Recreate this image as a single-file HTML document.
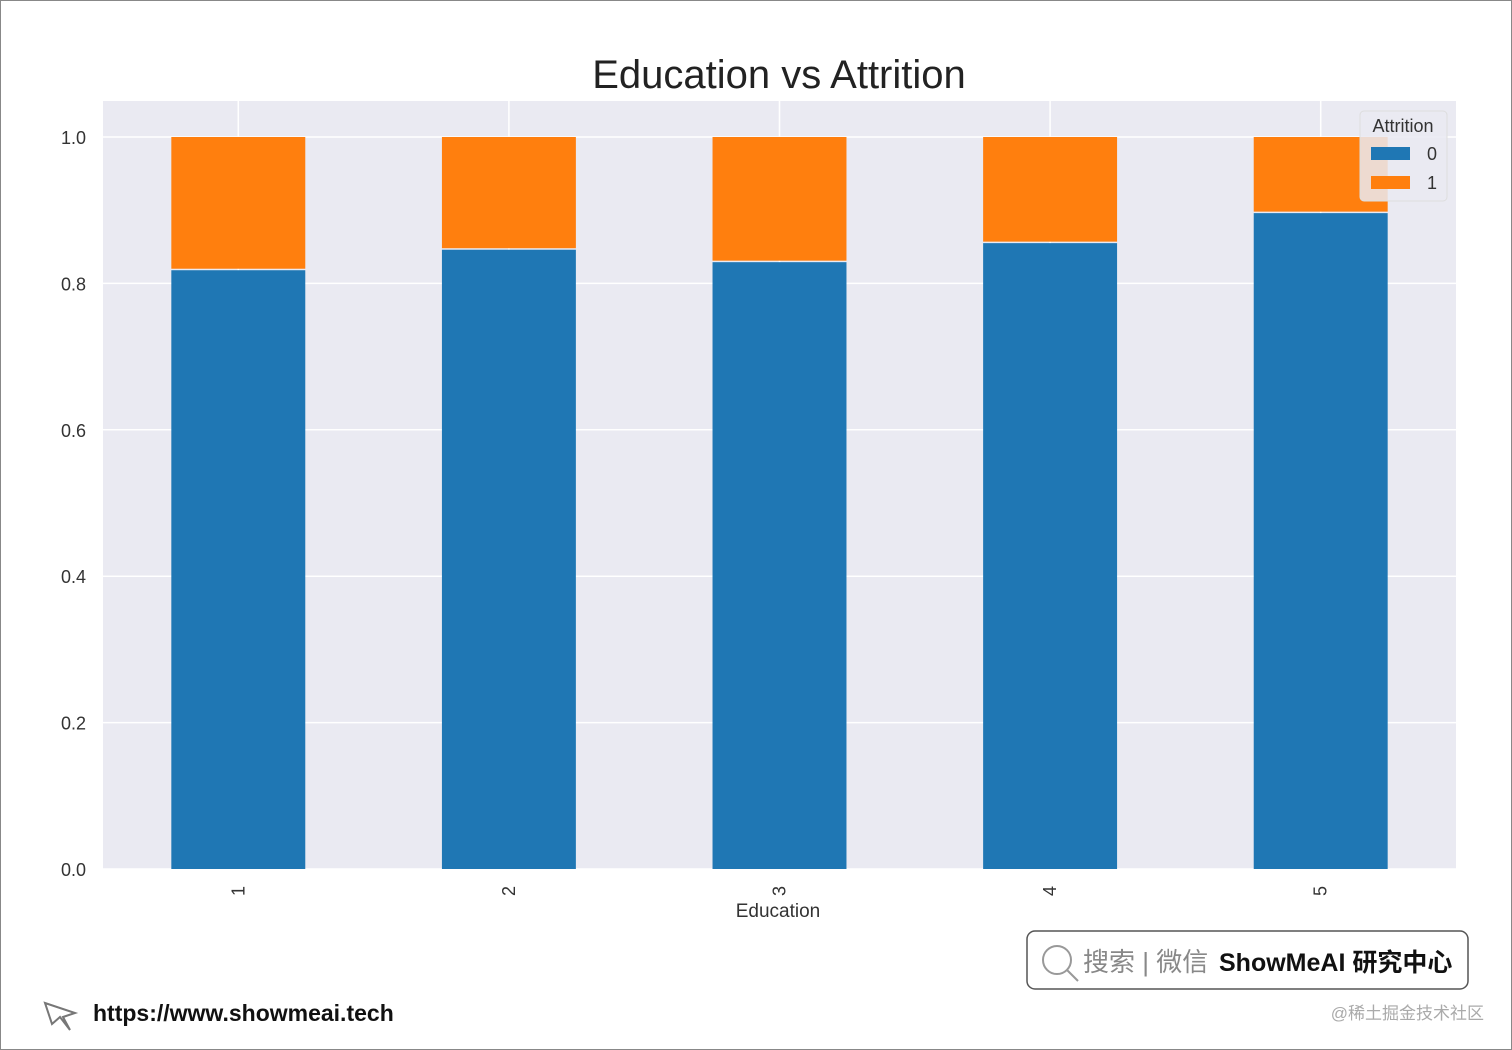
<!DOCTYPE html>
<html><head><meta charset="utf-8"><style>
html,body{margin:0;padding:0;background:#fff;}
body{width:1512px;height:1050px;position:relative;overflow:hidden;font-family:"Liberation Sans","Noto Sans CJK SC",sans-serif;}
#frame{position:absolute;left:0;top:0;width:1510px;height:1048px;border:1px solid #888;}
</style></head><body>
<div id="frame"></div>
<svg id="chart" width="1512" height="1050" style="position:absolute;left:0;top:0">
<text x="779" y="88" font-size="40" text-anchor="middle" fill="#222">Education vs Attrition</text>
<rect x="103" y="101" width="1353" height="768" fill="#eaeaf2"/>
<g id="grid"></g><g id="bars"></g><g id="ticks"></g>
<text x="778" y="917" font-size="19" text-anchor="middle" fill="#333">Education</text>
<g>
<rect x="1360" y="111" width="87" height="90" rx="4" fill="#eaeaf2" fill-opacity="0.85" stroke="#ddd"/>
<text x="1403" y="132" font-size="18" text-anchor="middle" fill="#333">Attrition</text>
<rect x="1371" y="147" width="39" height="13" fill="#1f77b4"/>
<text x="1437" y="160" font-size="18" text-anchor="end" fill="#333">0</text>
<rect x="1371" y="176" width="39" height="13" fill="#ff7f0e"/>
<text x="1437" y="189" font-size="18" text-anchor="end" fill="#333">1</text>
</g>
<g>
<rect x="1027" y="931" width="441" height="58" rx="8" fill="#fff" stroke="#555" stroke-width="1.5"/>
<circle cx="1057" cy="960" r="14" fill="none" stroke="#999" stroke-width="2"/>
<line x1="1067" y1="970" x2="1078" y2="981" stroke="#999" stroke-width="2"/>
<text x="1083" y="971" font-size="26" fill="#888">搜索 | 微信</text>
<text x="1219" y="971" font-size="25" font-weight="bold" fill="#111">ShowMeAI 研究中心</text>
</g>
<text x="1484" y="1019" font-size="17" text-anchor="end" fill="#aaa">@稀土掘金技术社区</text>
<path d="M45 1003 L75 1013 L63 1017 L70 1030 L60 1017 L52 1024 Z" fill="none" stroke="#777" stroke-width="2"/>
<text x="93" y="1021" font-size="23" font-weight="bold" fill="#111">https://www.showmeai.tech</text>
</svg>
<script>
const categories=["1","2","3","4","5"];
const stay=[0.818,0.846,0.829,0.855,0.896];
const leave=[0.182,0.154,0.171,0.145,0.104];
const yTicks=[0,0.2,0.4,0.6,0.8,1.0];
const yTickLabels=["0.0","0.2","0.4","0.6","0.8","1.0"];
const NS="http://www.w3.org/2000/svg";
const X0=103,W=1353,Y0=869,PPU=732;
function xs(i){return X0+W*(i+0.5)/categories.length;}
function ys(v){return Y0-v*PPU;}
const bw=W/categories.length*0.495;
function mk(tag,at,parent){const e=document.createElementNS(NS,tag);for(const k in at)e.setAttribute(k,at[k]);document.getElementById(parent).appendChild(e);return e;}
yTicks.forEach((t,i)=>{
 const l=mk('line',{x1:X0,x2:X0+W,y1:ys(t),y2:ys(t),stroke:'#fff','stroke-width':1.5},'grid');
 
 
 const tx=mk('text',{x:86,y:ys(t)+7,'font-size':18,'text-anchor':'end',fill:'#333'},'ticks');
 tx.textContent=yTickLabels[i];
 
 
});
categories.forEach((c,i)=>{
 const g=mk('line',{x1:xs(i),x2:xs(i),y1:101,y2:Y0,stroke:'#fff','stroke-width':1.5},'grid');
 
 
 const b=mk('rect',{x:xs(i)-bw/2,y:ys(stay[i]),width:bw,height:ys(0)-ys(stay[i]),fill:'#1f77b4'},'bars');
 
 
 const o=mk('rect',{x:xs(i)-bw/2,y:ys(stay[i]+leave[i]),width:bw,height:ys(stay[i])-ys(stay[i]+leave[i])-1.5,fill:'#ff7f0e'},'bars');
 
 
 const t=mk('text',{x:0,y:0,'font-size':18,'text-anchor':'middle',fill:'#333',transform:`translate(${xs(i)+6},891) rotate(-90)`},'ticks');
 t.textContent=c;
 
 
});
</script>
</body></html>
